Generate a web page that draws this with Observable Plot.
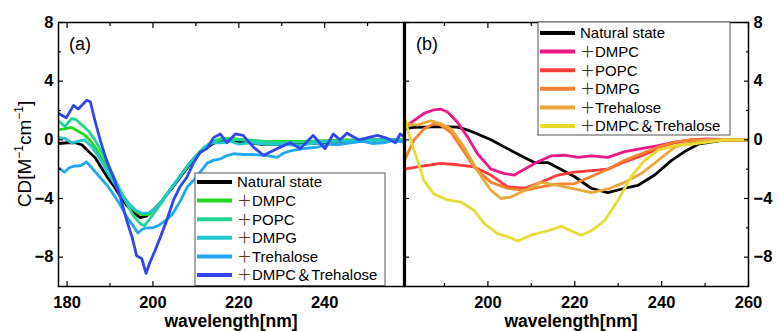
<!DOCTYPE html>
<html><head><meta charset="utf-8">
<script src="https://cdn.jsdelivr.net/npm/d3@7"></script>
<script src="https://cdn.jsdelivr.net/npm/@observablehq/plot@0.6"></script>
<style>
html,body{margin:0;padding:0;background:#fff;}
#wrap{position:relative;width:777px;height:331px;overflow:hidden;background:#fff;}
#wrap svg{position:absolute;top:0;}
</style></head><body><div id="wrap"></div>
<script>
// ---------- data: panel (a) ----------
const aNatural = [[178,-0.25],[180,-0.2],[182,-0.2],[183.5,-0.35],[185,-0.8],[186.5,-1.2],[188,-1.9],[189.5,-2.6],[191,-3.2],[192.5,-3.9],[194,-4.5],[195.5,-4.95],[197,-5.3],[198.5,-5.2],[200,-4.8],[201.7,-4.3],[204.7,-3.2],[208,-1.9],[211,-0.85],[214,-0.25],[217,0],[220,-0.1],[225,-0.3],[230,-0.3],[235,-0.25],[240,-0.2],[245,-0.1],[250,0],[258.5,0]];
const aDMPC = [[178,0.7],[179.5,0.75],[181,0.85],[182.5,0.6],[184,0.35],[185.5,-0.1],[187,-0.7],[188.5,-1.5],[190,-2.4],[191.5,-3.1],[193,-3.8],[194.5,-4.4],[196,-4.9],[197.5,-5.1],[199,-5.1],[200.5,-4.7],[202,-4.2],[204,-3.4],[206,-2.6],[208,-1.8],[210,-1.1],[212,-0.5],[214,-0.1],[216,0.1],[218,0.1],[222,0.0],[226,-0.1],[230,-0.1],[235,-0.1],[240,-0.05],[245,0],[250,0],[258.5,0]];
const aPOPC = [[178,1.3],[179.5,0.9],[181,1.45],[182,1.4],[183.5,1.0],[185,0.6],[186.5,0.0],[188,-0.8],[189.5,-1.7],[191,-2.6],[192.5,-3.5],[194,-4.4],[195.5,-5.2],[197,-5.7],[198,-5.85],[199,-5.5],[200.5,-4.9],[202,-4.3],[204,-3.4],[206,-2.6],[208,-1.8],[210,-1.1],[212,-0.5],[214,-0.1],[216,0.05],[220,0],[225,-0.1],[230,-0.2],[240,-0.1],[250,0],[258.5,0]];
const aDMPG = [[178,0.15],[179.5,0.1],[181,-0.2],[182.5,-0.1],[184,0.0],[185.5,-0.4],[187,-1.0],[188.5,-1.7],[190,-2.5],[191.5,-3.2],[193,-3.9],[194.5,-4.4],[196,-4.8],[197.5,-5.0],[199,-5.0],[200.5,-4.7],[202,-4.2],[204,-3.4],[206,-2.6],[208,-1.8],[210,-1.1],[212,-0.5],[214,-0.2],[216,-0.2],[218,-0.1],[220,-0.3],[223,-0.2],[226,-0.3],[230,-0.3],[234,-0.4],[238,-0.2],[242,-0.1],[246,-0.1],[250,-0.1],[254,0],[258.5,0]];
const aTrehalose = [[178,-1.9],[179.4,-2.2],[180.5,-1.9],[181.5,-1.8],[183.3,-1.75],[184.5,-1.5],[186,-2.0],[187.5,-2.5],[189.3,-3.1],[191,-3.8],[192.5,-4.5],[194,-5.3],[195.5,-5.9],[196.5,-6.35],[197.5,-6.1],[198.5,-6.0],[200,-6.0],[201.5,-5.8],[203,-5.5],[204.7,-5.0],[206.5,-4.1],[208,-3.2],[209.5,-2.75],[211,-2.2],[212.6,-1.6],[214,-1.4],[215.7,-1.3],[217,-1.1],[218.8,-0.95],[221,-1.0],[223.4,-1.0],[226,-1.05],[228.9,-1.2],[230.5,-0.9],[232,-0.75],[235,-0.6],[238.3,-0.5],[241,-0.3],[243,-0.35],[246,-0.2],[249,-0.1],[251,-0.25],[253.7,-0.2],[256,-0.05],[258.5,-0.15]];
const aDMPCTrehalose = [[178,1.8],[179.8,1.5],[181.5,2.35],[182.6,2.1],[184.6,2.7],[185.4,2.6],[186.5,1.3],[187.7,0],[189.2,-1.4],[190.8,-2.55],[192.4,-3.9],[193.9,-5.5],[195.1,-6.6],[196.2,-7.9],[197.4,-8.1],[198.4,-9.1],[199.3,-8.35],[200.5,-7.55],[201.7,-6.65],[203.2,-5.5],[204.8,-4.1],[206.3,-3.2],[207.9,-2.55],[209.4,-1.6],[211,-0.85],[212.6,-0.6],[214.1,0.15],[215.7,0.4],[217.2,-0.2],[219.2,0.4],[221,0.3],[223.4,-0.5],[225.8,-1.05],[228.9,-0.6],[232,-0.2],[234.3,-0.6],[237.3,0.3],[240.1,-0.6],[242,0.4],[243.6,0],[245.2,0.45],[247.9,0],[252.3,0.3],[254.6,0.1],[256.5,-0.2],[257.6,0.4],[258.5,0.2]];

// ---------- data: panel (b) ----------
const bNatural = [[180.8,0.75],[183,0.85],[185.3,0.86],[189.1,0.9],[193,0.86],[195,0.7],[196.8,0.5],[200.7,0],[204.5,-0.6],[208.4,-1.2],[210.7,-1.55],[213.8,-1.55],[216.1,-1.9],[219.9,-2.5],[223.8,-3.3],[227.6,-3.6],[231.5,-3.3],[234.6,-3.1],[238.4,-2.4],[242.3,-1.4],[245.3,-0.8],[248.4,-0.3],[254.6,0],[260,0]];
const bDMPC = [[180.8,0.9],[181.5,1.0],[185.3,1.8],[187.6,2.05],[189.1,2.1],[190.7,1.9],[193,1.2],[195.3,0.2],[197.6,-0.95],[200.7,-2.0],[203.8,-2.3],[206.1,-2.4],[208.4,-2.0],[211.5,-1.5],[214.5,-1.1],[217.6,-1.05],[220.7,-1.2],[223.8,-1.1],[227.6,-1.2],[231.5,-0.8],[235.3,-0.6],[239.2,-0.4],[243,-0.15],[246.9,0],[250.7,0.07],[254.6,0],[260,0]];
const bPOPC = [[180.8,-2.0],[183.8,-1.85],[189.1,-1.6],[193,-1.7],[196.8,-1.85],[200.7,-2.4],[204.5,-3.2],[208.4,-3.3],[212.2,-2.9],[216.1,-2.4],[219.9,-2.2],[223.8,-2.1],[227.6,-2.0],[231.5,-1.5],[235.3,-1.1],[239.2,-0.6],[243,-0.2],[246.9,0],[260,0]];
const bDMPG = [[180.8,-1.4],[183,0],[185.3,0.75],[187.6,1.1],[189.1,1.0],[191.5,0.5],[193.8,-0.5],[196.8,-1.85],[200.7,-2.9],[204.5,-3.3],[208.4,-3.45],[212.2,-3.2],[216.1,-3.0],[219.9,-3.0],[223.8,-2.5],[227.6,-2.0],[231.5,-1.4],[235.3,-0.95],[239.2,-0.5],[243,-0.15],[246.9,0],[260,0]];
const bTrehalose = [[180.8,1.1],[183.8,1.0],[186.8,1.3],[189.1,1.1],[191.5,0.75],[194.5,-0.5],[197.6,-2.1],[200.7,-3.45],[203,-4.0],[205.3,-3.9],[208.4,-3.45],[212.2,-2.9],[216.1,-3.1],[219.9,-3.35],[223.8,-3.6],[227.6,-3.35],[231.5,-2.9],[235.3,-2.3],[239.2,-1.4],[243,-0.5],[246.9,-0.15],[250.7,0],[260,0]];
const bDMPCTrehalose = [[180.8,1.55],[182.2,0],[183.8,-1.4],[185.3,-2.8],[187.6,-3.7],[190.7,-4.1],[193.8,-4.25],[196.8,-4.8],[199.1,-5.7],[202.2,-6.4],[204.5,-6.6],[206.9,-6.9],[209.9,-6.5],[213.8,-6.2],[216.9,-5.9],[219.9,-6.3],[221.5,-6.5],[223.8,-6.2],[226.9,-5.5],[230,-4.1],[233,-2.5],[236.1,-1.4],[239.2,-0.7],[243,-0.4],[246.9,-0.3],[250.7,-0.15],[254.6,0],[260,0]];

// ---------- categories, colours, ticks ----------
const labels = ["Natural state","＋DMPC","＋POPC","＋DMPG","＋Trehalose","＋DMPC＆Trehalose"];
const colorsA = ["#000000","#22d622","#22d494","#22c6cc","#22a8f0","#3246ee"];
const colorsB = ["#000000","#f0168c","#ff3c3c","#f5822e","#e8a83a","#e6dc34"];
const seriesA = [aNatural,aDMPC,aPOPC,aDMPG,aTrehalose,aDMPCTrehalose];
const seriesB = [bNatural,bDMPC,bPOPC,bDMPG,bTrehalose,bDMPCTrehalose];
const yMajor = [-8,-4,0,4,8];
const yMinor = [-6,-2,2,6];
const xLabelsA = [180,200,220,240];
const xMinorA = [190,210,230,250];
const xLabelsB = [200,220,240,260];
const xMinorB = [190,210,230,250];
const xDomainA = [178,258.6];
const xDomainB = [180.8,260];
const yDomain = [-10,8];

const FONT = "Liberation Sans, Arial, Noto Sans CJK JP, sans-serif";

function rows(series){
  return series.flatMap((s,i)=>s.map(([w,v])=>({w,v,k:labels[i]})));
}

function panel({series, colors, xDomain, width, ml, mr, yAnchor, xLabels, xMinor, leftRule}){
  const tickOpts = {fill:"none", stroke:"black", strokeWidth:1.2, label:null};
  return Plot.plot({
    width, height:331, marginTop:22, marginBottom:45, marginLeft:ml, marginRight:mr,
    style:{background:"transparent", fontFamily:FONT, overflow:"visible"},
    x:{domain:xDomain}, y:{domain:yDomain},
    color:{domain:labels, range:colors},
    marks:[
      Plot.line(rows(series), {x:"w", y:"v", z:"k", stroke:"k", strokeWidth:2.8, clip:true}),
      Plot.frame({stroke:"black", strokeWidth:1.5}),
      leftRule ? Plot.ruleX([xDomain[0]], {stroke:"black", strokeWidth:3.2}) : null,
      Plot.axisY({anchor:yAnchor, ticks:yMajor, tickSize:-5, ...tickOpts}),
      Plot.axisY({anchor:yAnchor, ticks:yMinor, tickSize:-3, ...tickOpts}),
      leftRule ? Plot.axisY({anchor:"left", ticks:yMajor, tickSize:-5, ...tickOpts}) : null,
      Plot.axisX({anchor:"top", ticks:xLabels, tickSize:-5, ...tickOpts}),
      Plot.axisX({anchor:"top", ticks:xMinor, tickSize:-3, ...tickOpts}),
      Plot.axisX({anchor:"bottom", ticks:xLabels, tickSize:-5, ...tickOpts}),
      Plot.axisX({anchor:"bottom", ticks:xMinor, tickSize:-3, ...tickOpts}),
      Plot.axisY({anchor:yAnchor, ticks:yMajor, tickSize:0, tickPadding:5, fontSize:16.5, fontWeight:"bold", label:null, fill:"black"}),
      Plot.axisX({anchor:"bottom", ticks:xLabels, tickSize:0, tickPadding:10, fontSize:16.5, fontWeight:"bold", label:null, fill:"black"})
    ]
  });
}

function legend(svg, x0, y0, w, h, y1, step, colors, plusColor){
  const g = d3.select(svg).append("g").attr("font-family", FONT).attr("font-size", 15)
    .attr("text-anchor","start").attr("font-weight","normal");
  g.append("rect").attr("x",x0).attr("y",y0).attr("width",w).attr("height",h)
    .attr("fill","white").attr("stroke","#555").attr("stroke-width",1);
  labels.forEach((lab,i)=>{
    const y = y1 + i*step;
    g.append("line").attr("x1",x0+2).attr("x2",x0+37).attr("y1",y).attr("y2",y)
      .attr("stroke",colors[i]).attr("stroke-width",4);
    const t = g.append("text").attr("x",x0+42).attr("y",y).attr("dy","0.36em")
      .attr("text-anchor","start").attr("fill","black");
    if (lab.startsWith("＋")) {
      t.append("tspan").attr("fill",plusColor).text("＋");
      t.append("tspan").text(lab.slice(1));
    } else t.text(lab);
  });
}

function addText(svg, x, y, txt, opts={}){
  return d3.select(svg).append("text").attr("x",x).attr("y",y)
    .attr("font-family",FONT).attr("font-size",opts.size||16)
    .attr("font-weight",opts.weight||"normal").attr("text-anchor",opts.anchor||"start")
    .attr("fill","black").text(txt);
}

const wrap = document.getElementById("wrap");

const svgA = panel({series:seriesA, colors:colorsA, xDomain:xDomainA, width:405, ml:58, mr:1, yAnchor:"left", xLabels:xLabelsA, xMinor:xMinorA, leftRule:false});
svgA.style.left = "0px";
wrap.appendChild(svgA);
legend(svgA, 195, 173, 190, 112.5, 182, 18.6, colorsA, "#5a3a1a");
addText(svgA, 69, 50, "(a)", {size:18});
addText(svgA, 231, 327, "wavelength[nm]", {size:17.5, weight:"bold", anchor:"middle"});
{
  const t = d3.select(svgA).append("text").attr("transform","translate(31,154) rotate(-90)")
    .attr("text-anchor","middle").attr("font-size",19).attr("font-family",FONT).attr("fill","black");
  t.append("tspan").text("CD[M");
  t.append("tspan").attr("font-size",12).attr("dy",-8).text("−1");
  t.append("tspan").attr("dy",8).text("cm");
  t.append("tspan").attr("font-size",12).attr("dy",-8).text("−1");
  t.append("tspan").attr("dy",8).text("]");
}

const svgB = panel({series:seriesB, colors:colorsB, xDomain:xDomainB, width:377, ml:4, mr:29, yAnchor:"right", xLabels:xLabelsB, xMinor:xMinorB, leftRule:true});
svgB.style.left = "400px";
wrap.appendChild(svgB);
legend(svgB, 138, 22, 192, 113, 33, 18.6, colorsB, "#333");
addText(svgB, 16, 50, "(b)", {size:18});
addText(svgB, 171, 327, "wavelength[nm]", {size:17.5, weight:"bold", anchor:"middle"});
</script></body></html>
